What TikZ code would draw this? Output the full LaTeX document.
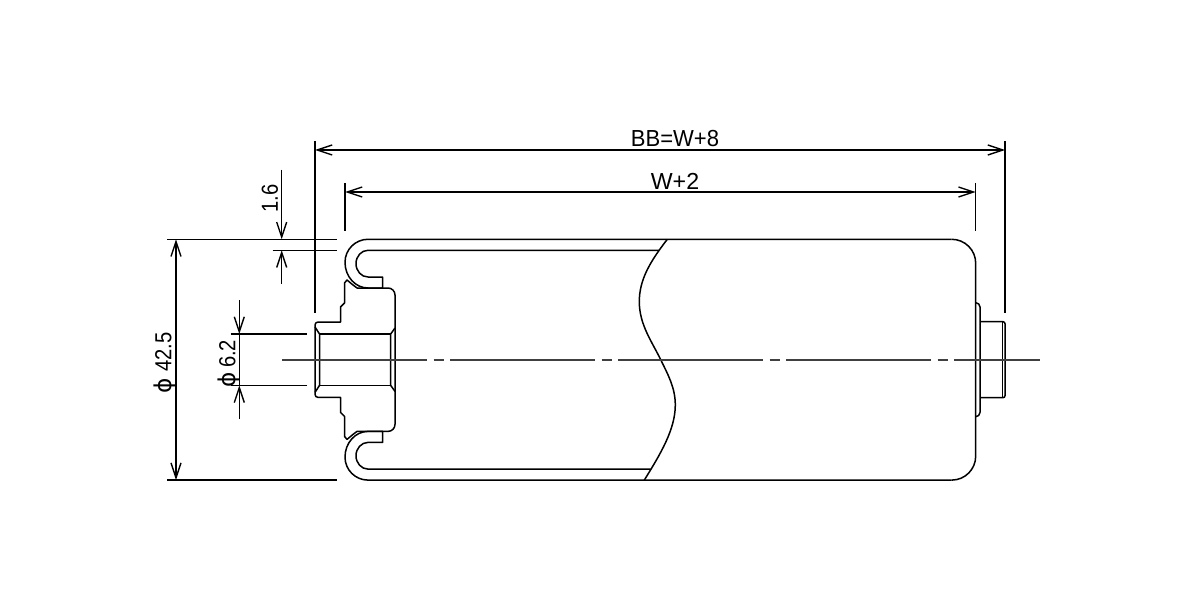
\documentclass[tikz,border=0pt]{standalone}
\usepackage{fontspec}
\setmainfont{Liberation Sans}
\newfontfamily\widefont[FakeStretch=.95]{Liberation Sans}
\newfontfamily\narrowfont[FakeStretch=.87]{Liberation Sans}
\newfontfamily\phifont{DejaVu Sans}
\usetikzlibrary{arrows.meta}
\tikzstyle{part}=[line width=.75pt, line join=round]
\tikzstyle{dimline}=[line width=.7pt, {Straight Barb[length=7.5pt,width=5pt]}-{Straight Barb[length=7.5pt,width=5pt]}]
\tikzstyle{dimtip}=[line width=.7pt, -{Straight Barb[length=7.5pt,width=5pt]}]
\tikzstyle{extline}=[line width=.7pt]
\tikzstyle{axis}=[line width=.9pt, black!75, dash pattern=on 72.6pt off 3.2pt on 5pt off 3.2pt]
\tikzstyle{dimtext}=[inner sep=0pt, font=\fontsize{11.6}{12}\selectfont]

\begin{document}
\begin{tikzpicture}[x=.5pt, y=.5pt]
\useasboundingbox (0,-240.3) rectangle (1200,359.7);

\foreach \m/\xo/\xi in {1/667.3/659, -1/644.3/650.7} {
\begin{scope}[yscale=\m]
\draw[part] (951.7,120.4) -- (368,120.4) arc[start angle=90, end angle=180, radius=23]
    arc[start angle=180, end angle=270, x radius=23, y radius=25.7] -- (382.7,71.7) -- (382.7,82.7) -- (368,82.7)
    arc[start angle=270, end angle=90, x radius=12, y radius=13.35] -- (\xi,109.4);
\draw[part] (395,0) -- (395,64.7) arc[start angle=0, end angle=90, radius=7] -- (357,71.7) -- (353,74.7) -- (347,79.7)
    -- (344.5,76.7) -- (344.5,56.7) -- (340.5,52.7) -- (340.5,37.7) -- (318,37.7)
    arc[start angle=90, end angle=180, radius=3] -- (315,0);
\draw[part] (315,32.7) -- (319.5,25.7) -- (319.5,0);
\draw[part] (395,31.7) -- (390.7,25.7) -- (390.7,0);
\draw[part] (319.5,25.7) -- (390.7,25.7);
\draw[part] (951.7,120.4) arc[start angle=90, end angle=0, radius=24] -- (975.7,0);
\draw[part] (975.7,57) arc[start angle=90, end angle=0, radius=4.3] -- (980,0);
\draw[part] (980,38) -- (1003,38) arc[start angle=90, end angle=0, radius=2] -- (1005,0);
\draw[part] (1002.7,38) -- (1002.7,0);
\end{scope}
}

\draw[part] (667.3,120.4) .. controls (650,98) and (639.3,80) .. (639.3,58)
    .. controls (639.3,35) and (652,18) .. (660.7,0)
    .. controls (668,-15) and (675.3,-28) .. (675.3,-45.3)
    .. controls (675.3,-70) and (660,-95) .. (644.3,-120.4);

\coordinate (axisl) at (282,0);
\coordinate (axisr) at (1040,0);
\draw[axis] (axisl) -- (axisr);

\coordinate (bbl) at (315,209.7);
\coordinate (bbr) at (1005,209.7);
\coordinate (bblt) at (315,218.7);
\coordinate (bbrt) at (1005,218.7);
\coordinate (bblb) at (315,46.7);
\coordinate (bbrb) at (1005,46.7);
\draw[dimline] (bbl) -- (bbr);
\draw[extline] (bblt) -- (bblb);
\draw[extline] (bbrt) -- (bbrb);

\coordinate (wl) at (345,167.7);
\coordinate (wr) at (975.7,167.7);
\coordinate (wlt) at (345,176.7);
\coordinate (wrt) at (975.7,176.7);
\coordinate (wlb) at (345,128.7);
\coordinate (wrb) at (975.7,128.7);
\draw[dimline] (wl) -- (wr);
\draw[extline] (wlt) -- (wlb);
\draw[extline] (wrt) -- (wrb);

\coordinate (sa) at (167,120.4);
\coordinate (sb) at (336.7,120.4);
\coordinate (sc) at (272.7,109.4);
\coordinate (sd) at (336.7,109.4);
\coordinate (se) at (167,-120.4);
\coordinate (sf) at (336.7,-120.4);
\draw[extline] (sa) -- (sb);
\draw[extline] (sc) -- (sd);
\draw[extline] (se) -- (sf);

\coordinate (tt) at (281.7,190);
\coordinate (tu) at (281.7,120.4);
\coordinate (tv) at (281.7,109.4);
\coordinate (tw) at (281.7,75.7);
\draw[dimtip] (tt) -- (tu);
\draw[dimtip] (tw) -- (tv);

\coordinate (ou) at (176,120.4);
\coordinate (ol) at (176,-120.4);
\draw[dimline] (ou) -- (ol);

\coordinate (bt) at (239.3,59.7);
\coordinate (bu) at (239.3,25.7);
\coordinate (bl) at (239.3,-25.7);
\coordinate (bb) at (239.3,-59.3);
\draw[dimtip] (bt) -- (bu);
\draw[extline] (bu) -- (bl);
\draw[dimtip] (bb) -- (bl);
\coordinate (bc) at (230.7,25.7);
\coordinate (bd) at (306.7,25.7);
\coordinate (be) at (230.7,-25.7);
\coordinate (bf) at (306.7,-25.7);
\draw[extline] (bc) -- (bd);
\draw[extline] (be) -- (bf);

\node[dimtext] (bbtext) at (675,221.4) {\widefont BB=W+8};
\node[dimtext] (wtext) at (675,178.7) {W+2};
\node[dimtext, rotate=90] (ttext) at (270,161.2) {\narrowfont 1.6};
\node[dimtext, rotate=90] (otext) at (165,-3.3) {{\phifont ϕ} \narrowfont 42.5};
\node[dimtext, rotate=90] (btext) at (229,-3.8) {{\phifont ϕ}\,\narrowfont 6.2};
\end{tikzpicture}
\end{document}
